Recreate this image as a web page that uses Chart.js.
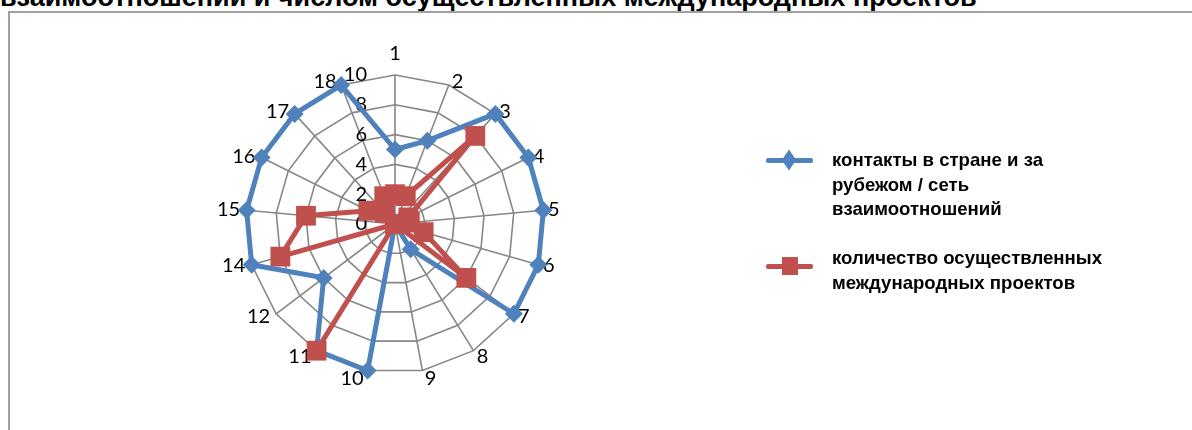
<!DOCTYPE html>
<html>
<head>
<meta charset="utf-8">
<script src="https://cdn.jsdelivr.net/npm/chart.js@4.4.0/dist/chart.umd.min.js"></script>
<style>
body { margin: 0; width: 1192px; height: 430px; overflow: hidden; background: #fff; position: relative; font-family: "Liberation Sans", Arial, sans-serif; }
#title { position: absolute; left: 0; top: -16px; font-size: 27px; line-height: 27px; font-weight: bold; white-space: nowrap; color: #000; }
#frame { position: absolute; left: 8px; top: 11px; width: 1300px; height: 500px; border: 2px solid #a0a0a0; }
#chartBox { position: absolute; left: 0; top: 0; width: 1192px; height: 430px; }
.item { position: absolute; left: 766px; width: 380px; }
.sample { position: absolute; left: 0; width: 47px; height: 5px; border-radius: 2px; }
.mark { position: absolute; }
.txt { position: absolute; left: 66px; font-size: 18.6px; line-height: 24.5px; font-weight: bold; color: #000; white-space: nowrap; }
</style>
</head>
<body>
<div id="title">взаимоотношений и числом осуществленных международных проектов</div>
<div id="frame"></div>
<div id="chartBox"><canvas id="radar" width="1192" height="430"></canvas></div>
<div class="item" id="leg0" style="top:148px">
  <div class="sample" style="top:10px;background:#4F81BD"></div>
  <div class="mark" style="left:17px;top:6px;width:12px;height:12px;background:#4F81BD;transform:scale(0.85,1.25) rotate(45deg)"></div>
  <div class="txt" style="top:0px"></div>
</div>
<div class="item" id="leg1" style="top:246px">
  <div class="sample" style="top:18px;background:#C0504D"></div>
  <div class="mark" style="left:16px;top:11px;width:16px;height:18px;background:#C0504D"></div>
  <div class="txt" style="top:0px"></div>
</div>
<script>
// категории (13 в исходных данных нет)
const categories = ["1", "2", "3", "4", "5", "6", "7", "8", "9", "10", "11", "12", "14", "15", "16", "17", "18"];
const contacts = [5, 6, 10, 10, 10, 10, 10, 2, 0, 10, 10, 6, 10, 10, 10, 10, 10];
const projects = [2, 2, 8, 1, 1, 2, 6, 0, 0, 0, 10, 0, 8, 6, 2, 1, 2];
const seriesNames = [
  ["контакты в стране и за", "рубежом / сеть", "взаимоотношений"],
  ["количество осуществленных", "международных проектов"]
];
const tickValues = [0, 2, 4, 6, 8, 10];

// легенда
document.querySelector("#leg0 .txt").innerHTML = seriesNames[0].join("<br>");
document.querySelector("#leg1 .txt").innerHTML = seriesNames[1].join("<br>");

// подписи оси значений и категорий (расставлены примерно как в Excel)
const excelLabels = {
  id: "excelLabels",
  beforeDatasetsDraw(chart) {
    const scale = chart.scales.r;
    const ctx = chart.ctx;
    ctx.save();
    ctx.font = "20px Lato";
    ctx.fillStyle = "#000";
    ctx.textBaseline = "middle";

    ctx.textAlign = "right";
    tickValues.forEach(v => {
      const d = scale.getDistanceFromCenterForValue(v);
      ctx.fillText(String(v), scale.xCenter - 28, scale.yCenter - d);
    });

    ctx.textAlign = "center";
    categories.forEach((lab, i) => {
      const a = scale.getIndexAngle(i);
      const halfW = ctx.measureText(lab).width / 2;
      const s = Math.sin(a);
      const c = Math.cos(a);
      const p = scale.getPointPosition(i, scale.drawingArea + 3);
      const dx = Math.abs(s) < 0.01 ? 0 : Math.sign(s) * 1.3 * halfW;
      const dy = c > 0 ? -18.5 * Math.pow(c, 40) : 5.5 * Math.pow(c, 4);
      ctx.fillText(lab, p.x + dx, p.y + dy);
    });
    ctx.restore();
  }
};

const ctx = document.getElementById("radar").getContext("2d");
const chart = new Chart(ctx, {
  type: "radar",
  data: {
    labels: categories,
    datasets: [
      {
        label: seriesNames[0].join(" "),
        data: contacts,
        borderColor: "#4F81BD",
        backgroundColor: "#4F81BD",
        borderWidth: 5,
        pointStyle: "rectRot",
        pointRadius: 9,
        pointBorderWidth: 0,
        fill: false,
        clip: false,
        order: 2
      },
      {
        label: seriesNames[1].join(" "),
        data: projects,
        borderColor: "#C0504D",
        backgroundColor: "#C0504D",
        borderWidth: 5,
        pointStyle: "rect",
        pointRadius: 14,
        pointBorderWidth: 0,
        fill: false,
        clip: false,
        order: 1
      }
    ]
  },
  options: {
    responsive: false,
    animation: false,
    layout: { padding: { left: 246, right: 648, top: 75, bottom: 57 } },
    plugins: { legend: { display: false }, tooltip: { enabled: false } },
    elements: { line: { tension: 0 } },
    scales: {
      r: {
        min: 0,
        max: 10,
        ticks: { stepSize: 2, maxTicksLimit: 6, display: false },
        grid: { color: "#878787", lineWidth: 1.6 },
        angleLines: { color: "#878787", lineWidth: 1.6 },
        pointLabels: { display: false }
      }
    }
  },
  plugins: [excelLabels]
});
</script>
</body>
</html>
